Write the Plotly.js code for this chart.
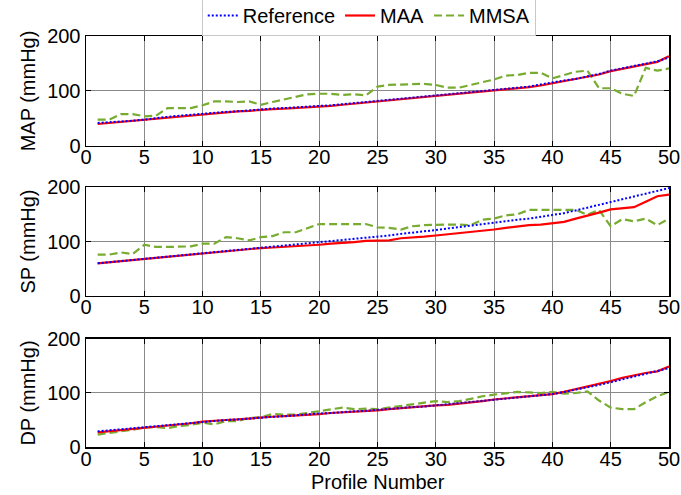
<!DOCTYPE html>
<html>
<head>
<meta charset="utf-8">
<script src="https://cdn.plot.ly/plotly-3.0.1.min.js"></script>
<style>html,body{margin:0;padding:0;background:#fff;}#chart{width:681px;height:495px;}</style>
</head>
<body>
<div id="chart"></div>
<script>
// Profile numbers
var profiles = [];
for (var i = 1; i <= 50; i++) profiles.push(i);

var seriesNames = ["Reference", "MAA", "MMSA"];
var panelTitles = ["MAP (mmHg)", "SP (mmHg)", "DP (mmHg)"];
var xAxisTitle = "Profile Number";
var xTickVals = [0,5,10,15,20,25,30,35,40,45,50];
var yTickVals = [0,100,200];

// MAP
var refMAP = [42,43,45,46,48,51,53,55,57,59,61,62,63,65,67,68,69,70,72,73,74,76,78,79,81,83,85,87,89,92,93,95,97,99,101,103,105,108,112,116,119,122,126,131,137,141,145,149,154,161];
var maaMAP = [40,42,44,45,47,50,52,54,56,58,60,62,63,64,66,67,68,69,71,72,73,75,77,78,80,82,84,86,88,90,92,94,96,98,100,102,104,107,110,114,117,121,125,130,136,140,144,148,153,163];
var mmsaMAP = [48,48,58,58,54,55,69,69,69,74,81,81,80,81,75,80,85,90,94,95,95,93,94,92,108,111,112,112,113,111,106,106,111,115,121,128,129,133,133,123,129,135,137,105,105,95,91,142,137,141];

// SP
var refSP = [60,62,64,66,68,70,72,74,76,78,80,82,84,86,88,90,92,94,96,99,101,103,105,107,109,111,114,116,118,121,124,126,129,132,135,137,140,142,145,148,152,157,162,167,172,177,182,187,192,198];
var maaSP = [60,62,64,66,68,70,72,74,76,79,81,82,84,86,88,89,90,91,93,94,96,97,99,101,102,102,106,107,109,111,113,115,117,120,122,125,128,130,131,133,136,142,147,153,159,161,163,173,183,186];
var mmsaSP = [76,76,80,77,94,90,90,90,91,96,96,108,106,102,108,110,117,117,124,132,132,132,132,132,126,125,122,128,130,131,131,131,130,140,142,148,150,158,158,158,159,158,149,158,128,141,137,142,130,142];

// DP
var refDP = [29,31,33,35,37,39,41,43,45,47,49,50,51,53,55,56,57,59,60,62,63,65,66,67,69,71,72,74,75,77,79,81,83,85,88,90,92,94,96,98,102,106,110,115,120,125,130,135,140,146];
var maaDP = [27,29,31,33,36,38,40,42,44,47,49,50,51,53,55,56,57,58,60,61,63,64,66,67,68,70,72,73,75,77,78,80,82,85,88,90,92,94,96,98,102,107,112,116,122,128,133,137,140,149];
var mmsaDP = [23,26,28,32,36,37,35,39,41,45,42,48,48,54,55,61,60,60,63,66,69,73,70,71,70,73,76,79,82,85,83,85,89,94,97,100,102,101,100,102,99,100,103,86,73,70,70,83,94,102];

var panels = [
  {ref: refMAP, maa: maaMAP, mmsa: mmsaMAP},
  {ref: refSP, maa: maaSP, mmsa: mmsaSP},
  {ref: refDP, maa: maaDP, mmsa: mmsaDP}
];

var colors = {ref: "#0000ff", maa: "#ff0000", mmsa: "#77ac30"};
var traces = [];
panels.forEach(function (p, k) {
  var xa = k === 0 ? "x" : "x" + (k + 1);
  var ya = k === 0 ? "y" : "y" + (k + 1);
  traces.push({x: profiles, y: p.mmsa, xaxis: xa, yaxis: ya, type: "scatter", mode: "lines",
    name: seriesNames[2], legendrank: 3, showlegend: k === 0,
    line: {color: colors.mmsa, width: 2.2, dash: "8px,4px"}});
  traces.push({x: profiles, y: p.maa, xaxis: xa, yaxis: ya, type: "scatter", mode: "lines",
    name: seriesNames[1], legendrank: 2, showlegend: k === 0,
    line: {color: colors.maa, width: 2.2}});
  traces.push({x: profiles, y: p.ref, xaxis: xa, yaxis: ya, type: "scatter", mode: "lines",
    name: seriesNames[0], legendrank: 1, showlegend: k === 0,
    line: {color: colors.ref, width: 2, dash: "2px,2px"}});
});

var font = {family: "Liberation Sans, Arial, sans-serif", size: 20, color: "#000"};
function xAxis(k, anchor) {
  return {
    domain: [0, 1], range: [0, 50], anchor: anchor,
    tickvals: xTickVals, ticks: "inside", ticklen: 5, tickcolor: "#000",
    showline: true, linecolor: "#000", linewidth: 1.5, mirror: "ticks",
    showgrid: true, gridcolor: "#8a8a8a", gridwidth: 1, zeroline: false,
    tickfont: font, fixedrange: true, automargin: false, ticklabelstandoff: -7,
    title: {text: ""}
  };
}
function yAxis(k, dom, anchor) {
  return {
    domain: dom, range: [0, 200], anchor: anchor,
    tickvals: yTickVals, ticks: "inside", ticklen: 5, tickcolor: "#000",
    showline: true, linecolor: "#000", linewidth: 1.5, mirror: "ticks",
    showgrid: true, gridcolor: "#8a8a8a", gridwidth: 1, zeroline: false,
    tickfont: font, fixedrange: true, automargin: false,
    title: {text: panelTitles[k], font: font, standoff: 6}
  };
}

var layout = {
  width: 681, height: 495,
  margin: {l: 86, r: 12, t: 36, b: 48, autoexpand: false},
  paper_bgcolor: "#fff", plot_bgcolor: "#fff",
  font: font,
  showlegend: true,
  legend: {
    orientation: "h", x: 0.485, xanchor: "center", y: 1, yanchor: "bottom",
    bgcolor: "#fff", bordercolor: "#c8c8c8", borderwidth: 1,
    font: font, traceorder: "normal", itemwidth: 30, itemgap: 30
  },
  annotations: [{
    text: xAxisTitle, xref: "paper", yref: "paper", x: 0.5, y: 0,
    xanchor: "center", yanchor: "middle", yshift: -35, showarrow: false, font: font
  }],
  xaxis: xAxis(0, "y"),
  yaxis: yAxis(0, [0.7324, 1], "x"),
  xaxis2: xAxis(1, "y2"),
  yaxis2: yAxis(1, [0.3674, 0.6326], "x2"),
  xaxis3: xAxis(2, "y3"),
  yaxis3: yAxis(2, [0, 0.2628], "x3")
};

Plotly.newPlot("chart", traces, layout, {displayModeBar: false, staticPlot: true});
</script>
</body>
</html>
